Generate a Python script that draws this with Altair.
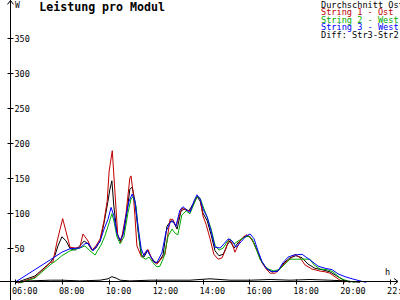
import altair as alt
import pandas as pd

# ---------------- data ----------------
tick_hours = [6, 8, 10, 12, 14, 16, 18, 20, 22]
tick_watts = [50, 100, 150, 200, 250, 300, 350]

names = ["Durchschnitt Ost", "String 1 - Ost", "String 2 - West",
         "String 3 - West", "Diff: Str3-Str2"]
colors = ["#000000", "#c00000", "#00aa00", "#0000ff", "#000000"]

avg_t = ["06:00", "06:51", "07:30", "07:42", "07:50", "08:00", "08:11", "08:21",
         "08:34", "08:46", "08:57", "09:07", "09:17", "09:27", "09:38", "09:48",
         "09:58", "10:03", "10:08", "10:13", "10:21", "10:29", "10:39", "10:47",
         "10:54", "11:00", "11:07", "11:15", "11:23", "11:30", "11:40", "11:48",
         "11:58", "12:06", "12:19", "12:29", "12:39", "12:47", "12:55", "13:05",
         "13:15", "13:25", "13:36", "13:46", "13:54", "14:01", "14:12", "14:22",
         "14:32", "14:42", "14:53", "15:03", "15:10", "15:21", "15:33", "15:46",
         "15:59", "16:09", "16:20", "16:32", "16:45", "16:58", "17:13", "17:29",
         "17:44", "17:59", "18:15", "18:30", "18:48", "19:06", "19:26", "19:44",
         "20:02", "20:18"]
avg_v = [0, 10, 29, 39, 53, 66, 60, 49,
         47, 53, 60, 56, 47, 50, 60, 86,
         117, 134, 146, 110, 71, 60, 74, 103,
         134, 137, 117, 74, 40, 37, 47, 37,
         30, 29, 40, 81, 89, 86, 77, 103,
         106, 103, 113, 123, 117, 100, 89, 69,
         46, 39, 41, 54, 60, 50, 59, 66,
         67, 60, 46, 30, 20, 16, 17, 29,
         36, 39, 36, 27, 21, 19, 16, 10,
         4, 1]

s1_t = ["06:08", "06:51", "07:30", "07:37", "07:48", "08:02", "08:21", "08:34",
        "08:46", "08:54", "09:07", "09:17", "09:27", "09:38", "09:48", "09:56",
        "10:01", "10:09", "10:23", "10:31", "10:44", "10:54", "10:57", "11:02",
        "11:07", "11:12", "11:24", "11:40", "11:53", "12:03", "12:24", "12:37",
        "12:44", "12:52", "13:07", "13:18", "13:28", "13:38", "13:46", "13:54",
        "14:01", "14:09", "14:19", "14:29", "14:40", "14:50", "15:00", "15:08",
        "15:16", "15:23", "15:36", "15:51", "16:02", "16:12", "16:22", "16:32",
        "16:43", "16:53", "17:06", "17:18", "17:31", "17:44", "17:57", "18:10",
        "18:22", "18:40", "19:01", "19:14", "19:26", "19:39", "19:52", "20:05"]
s1_v = [0, 8, 29, 30, 60, 92, 51, 50,
        51, 70, 60, 47, 53, 63, 89, 117,
        160, 189, 68, 58, 98, 150, 153, 131,
        96, 53, 37, 48, 31, 27, 41, 91,
        91, 81, 107, 104, 103, 113, 124, 120,
        96, 84, 64, 41, 34, 36, 49, 63,
        56, 44, 60, 69, 66, 56, 43, 29,
        20, 14, 14, 20, 29, 34, 41, 36,
        26, 20, 17, 16, 14, 9, 4, 1]

s2_t = ["06:13", "06:51", "07:30", "07:50", "08:00", "08:21", "08:46", "08:59",
        "09:12", "09:25", "09:30", "09:40", "09:50", "10:01", "10:08", "10:13",
        "10:21", "10:29", "10:39", "10:49", "10:57", "11:02", "11:10", "11:17",
        "11:25", "11:35", "11:43", "11:53", "12:03", "12:11", "12:21", "12:32",
        "12:42", "12:50", "12:57", "13:07", "13:18", "13:28", "13:38", "13:46",
        "13:54", "14:01", "14:12", "14:22", "14:32", "14:42", "14:53", "15:03",
        "15:10", "15:21", "15:31", "15:44", "15:56", "16:07", "16:17", "16:27",
        "16:37", "16:48", "17:03", "17:18", "17:31", "17:44", "18:35", "18:45",
        "19:01", "19:19", "19:34", "19:52", "20:10", "20:30"]
s2_v = [0, 7, 26, 34, 39, 46, 50, 53,
        46, 40, 45, 54, 67, 86, 99, 89,
        66, 56, 66, 100, 120, 123, 110, 67,
        37, 34, 37, 29, 23, 24, 37, 67,
        77, 71, 69, 97, 103, 99, 113, 123,
        121, 110, 94, 77, 54, 47, 50, 59,
        63, 56, 60, 64, 67, 63, 49, 34,
        26, 20, 17, 20, 27, 34, 34, 26,
        20, 19, 16, 7, 3, 1]

s3_t = ["06:00", "07:30", "08:00", "08:21", "08:46", "08:59", "09:07", "09:20",
        "09:38", "09:48", "09:58", "10:06", "10:13", "10:21", "10:29", "10:36",
        "10:44", "10:52", "11:00", "11:07", "11:15", "11:23", "11:30", "11:38",
        "11:46", "11:56", "12:03", "12:16", "12:27", "12:37", "12:44", "12:52",
        "13:02", "13:10", "13:20", "13:28", "13:38", "13:46", "13:54", "14:01",
        "14:12", "14:22", "14:32", "14:45", "14:55", "15:06", "15:16", "15:26",
        "15:39", "15:51", "16:02", "16:12", "16:22", "16:32", "16:43", "16:58",
        "17:13", "17:26", "17:39", "17:54", "18:15", "18:35", "18:56", "19:14",
        "19:32", "19:47", "20:05", "20:23", "20:43", "20:59"]
s3_v = [1, 33, 44, 49, 50, 56, 57, 46,
        60, 77, 91, 108, 96, 71, 61, 67,
        96, 117, 127, 117, 81, 49, 39, 47,
        39, 30, 29, 43, 74, 86, 89, 81,
        104, 109, 104, 101, 117, 126, 120, 106,
        94, 74, 51, 50, 56, 63, 60, 51,
        59, 67, 70, 63, 46, 31, 21, 16,
        17, 29, 37, 40, 41, 33, 24, 21,
        19, 13, 9, 6, 3, 1]

diff_t = ["06:00", "06:38", "07:30", "08:00", "08:46", "09:38", "09:58", "10:08",
          "10:19", "10:29", "10:54", "11:46", "12:37", "13:28", "14:19", "15:10",
          "16:02", "16:53", "17:44", "18:35", "19:26", "20:05", "20:43"]
diff_v = [1, 3, 4, 4, 3, 4, 6, 9,
          7, 4, 3, 4, 4, 4, 6, 4,
          4, 5, 4, 5, 4, 3, 1]

title_text = "Leistung pro Modul"
y_unit = "W"
x_unit = "h"

# ---------------- chart ----------------
def to_hours(ts):
    return [int(t[:2]) + int(t[3:]) / 60 for t in ts]

W, H = 388, 283
mono = "DejaVu Sans Mono"
x_scale = alt.Scale(domain=[5.7867, 22.34], nice=False, zero=False)
y_scale = alt.Scale(domain=[0, 404.3], nice=False, zero=False)

x_axis = alt.Axis(values=tick_hours,
                  labelExpr="(datum.value < 10 ? '0' : '') + datum.value + ':00'",
                  tickSize=5, offset=-4, domain=False, grid=False,
                  labelAlign="left", labelOffset=-3.5, labelPadding=2.5,
                  labelBaseline="top", labelFont=mono, labelFontSize=8.5,
                  labelColor="black", tickColor="black", tickWidth=1,
                  labelFlush=False, labelOverlap=False, title=None)
y_axis = alt.Axis(values=tick_watts, tickSize=6, offset=-3, domain=False,
                  grid=False, labelAlign="left", labelPadding=-7,
                  labelBaseline="middle", labelFont=mono, labelFontSize=8.5,
                  labelColor="black", tickColor="black", tickWidth=1,
                  labelFlush=False, labelOverlap=False, title=None)

layers = []
series = [(avg_t, avg_v), (s1_t, s1_v), (s2_t, s2_v), (s3_t, s3_v), (diff_t, diff_v)]
for (ts, vs), col in zip(series, colors):
    df = pd.DataFrame({"h": to_hours(ts), "v": vs})
    layers.append(
        alt.Chart(df).mark_line(color=col, strokeWidth=1).encode(
            x=alt.X("h:Q", scale=x_scale, axis=x_axis),
            y=alt.Y("v:Q", scale=y_scale, axis=y_axis),
        )
    )

one = pd.DataFrame({"a": [0]})
# axis lines and arrows
layers.append(alt.Chart(one).mark_rule(color="black", strokeWidth=1).encode(
    x=alt.value(0.5), y=alt.value(0), y2=alt.value(300)))
layers.append(alt.Chart(one).mark_rule(color="black", strokeWidth=1).encode(
    x=alt.value(-10), x2=alt.value(388), y=alt.value(281.5)))
layers.append(alt.Chart(one).mark_point(
    shape="M-1,1.3L0,0L1,1.3", filled=False, size=36, color="black",
    strokeWidth=1, opacity=1).encode(x=alt.value(0.5), y=alt.value(0.5)))
layers.append(alt.Chart(one).mark_point(
    shape="M-1.3,-1L0,0L-1.3,1", filled=False, size=36, color="black",
    strokeWidth=1, opacity=1).encode(x=alt.value(388), y=alt.value(281.5)))

# title and units
layers.append(alt.Chart(pd.DataFrame({"t": [title_text]})).mark_text(
    font=mono, fontSize=11.6, fontWeight="bold", align="left",
    baseline="alphabetic", color="black").encode(
    text="t:N", x=alt.value(29.3), y=alt.value(11)))
layers.append(alt.Chart(pd.DataFrame({"t": [y_unit]})).mark_text(
    font=mono, fontSize=8, align="left", baseline="alphabetic",
    color="black").encode(text="t:N", x=alt.value(5), y=alt.value(7.5)))
layers.append(alt.Chart(pd.DataFrame({"t": [x_unit]})).mark_text(
    font=mono, fontSize=8.5, align="left", baseline="alphabetic",
    color="black").encode(text="t:N", x=alt.value(375), y=alt.value(275)))

# legend text rows
row_y = [7.5, 15.1, 22.7, 30.3, 37.9]
for name, col, ry in zip(names, colors, row_y):
    layers.append(alt.Chart(pd.DataFrame({"t": [name]})).mark_text(
        font=mono, fontSize=8.6, align="left", baseline="alphabetic",
        color=col).encode(text="t:N", x=alt.value(311), y=alt.value(ry)))

chart = alt.layer(*layers).properties(
    width=W, height=H,
    padding={"left": 10, "top": 0, "right": 2, "bottom": 17},
    autosize=alt.AutoSizeParams(type="none"),
    background="white",
).configure_view(stroke=None)

chart.save("out.html", embed_options={"renderer": "svg", "actions": False})
